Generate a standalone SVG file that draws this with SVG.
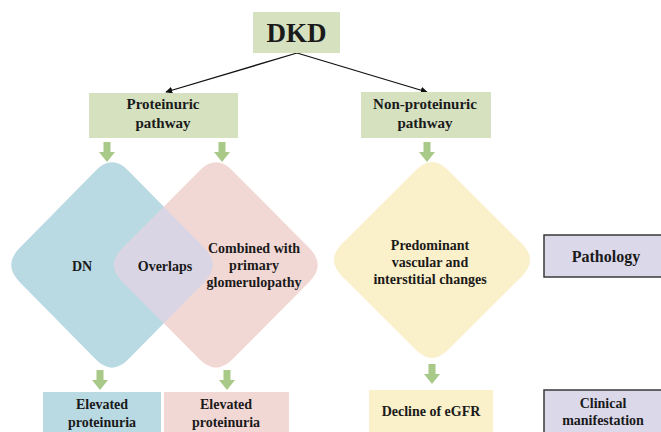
<svg xmlns="http://www.w3.org/2000/svg" xmlns:xlink="http://www.w3.org/1999/xlink" width="661" height="432" viewBox="0 0 661 432">
<style>
text{font-family:"Liberation Serif","Times New Roman",serif;font-weight:bold;fill:#1a1a1a;text-anchor:middle;dominant-baseline:central}
.g{fill:#d6e1c0}
.lab{stroke:#3a3a3a;stroke-width:1.5;fill:#dbd8ea}
.conn{stroke:#111;stroke-width:1.3;fill:none;marker-end:url(#ah)}
.ga{fill:#a8c988}
</style>
<defs>
<marker id="ah" viewBox="0 0 10 10" refX="9" refY="5" markerWidth="7" markerHeight="7" orient="auto" markerUnits="userSpaceOnUse"><path d="M0,0 L10,5 L0,10 Z" fill="#111"/></marker>
<polygon id="garrow" class="ga" points="-3.5,0 3.5,0 3.5,10 8,10 0,20 -8,10 -3.5,10"/>
<path id="pinkShape" d="M232.5,170.65 L309.5,248.35 Q326,265 309.5,281.65 L232.5,359.35 Q216,376 199.5,359.35 L122.5,281.65 Q106,265 122.5,248.35 L199.5,170.65 Q216,154 232.5,170.65 Z"/>
<path id="blueShape" d="M128.35,170.65 L204.65,248.35 Q221,265 204.65,281.65 L128.35,359.35 Q112,376 95.65,359.35 L19.35,281.65 Q3,265 19.35,248.35 L95.65,170.65 Q112,154 128.35,170.65 Z"/>
<clipPath id="pinkClip"><use xlink:href="#pinkShape"/></clipPath>
</defs>

<g id="connectors">
<line class="conn" x1="297" y1="53" x2="166" y2="92"/>
<line class="conn" x1="297" y1="53" x2="427" y2="92"/>
<use xlink:href="#garrow" x="107" y="142"/>
<use xlink:href="#garrow" x="222" y="142"/>
<use xlink:href="#garrow" x="427" y="142"/>
<use xlink:href="#garrow" x="100" y="370"/>
<use xlink:href="#garrow" x="227" y="370"/>
<use xlink:href="#garrow" x="432" y="364"/>
</g>

<g id="dkd"><rect class="g" x="253" y="12" width="87" height="41"/><text x="296.5" y="33" font-size="27">DKD</text></g>
<g id="proteinuric"><rect class="g" x="89" y="93" width="149" height="45"/><text x="163" y="104" font-size="15">Proteinuric</text><text x="163" y="123" font-size="15">pathway</text></g>
<g id="nonproteinuric"><rect class="g" x="361" y="92" width="130" height="46"/><text x="425" y="104" font-size="15">Non-proteinuric</text><text x="425" y="123" font-size="15">pathway</text></g>

<g id="dn"><use xlink:href="#blueShape" fill="#b9d9e3"/><text x="82" y="266" font-size="14">DN</text></g>
<g id="combined"><use xlink:href="#pinkShape" fill="#f2d8d5"/><text x="254" y="248" font-size="14">Combined with</text><text x="254" y="265" font-size="14">primary</text><text x="254" y="282" font-size="14">glomerulopathy</text></g>
<g id="overlaps"><use xlink:href="#blueShape" fill="#d9d5e5" clip-path="url(#pinkClip)"/><text x="165" y="266" font-size="14">Overlaps</text></g>
<g id="vascular"><path fill="#faf0c9" d="M447.9,169.9 L522.1,244.1 Q538,260 522.1,275.9 L447.9,350.1 Q432,366 416.1,350.1 L341.9,275.9 Q326,260 341.9,244.1 L416.1,169.9 Q432,154 447.9,169.9 Z"/><text x="430" y="245" font-size="14">Predominant</text><text x="430" y="262" font-size="14">vascular and</text><text x="430" y="279" font-size="14">interstitial changes</text></g>

<g id="pathology"><rect class="lab" x="544" y="235" width="125" height="42"/><text x="606" y="256" font-size="16">Pathology</text></g>

<g id="elev1"><rect fill="#b9d9e3" x="43" y="392" width="118" height="45"/><text x="102" y="404" font-size="14">Elevated</text><text x="102" y="422" font-size="14">proteinuria</text></g>
<g id="elev2"><rect fill="#f2d8d5" x="164" y="392" width="125" height="45"/><text x="226" y="404" font-size="14">Elevated</text><text x="226" y="422" font-size="14">proteinuria</text></g>
<g id="egfr"><rect fill="#faf0c9" x="369" y="390" width="124" height="47"/><text x="431" y="411" font-size="14">Decline of eGFR</text></g>
<g id="clinical"><rect class="lab" x="544" y="390" width="125" height="50"/><text x="603" y="403" font-size="14">Clinical</text><text x="603" y="420" font-size="14">manifestation</text></g>
</svg>
